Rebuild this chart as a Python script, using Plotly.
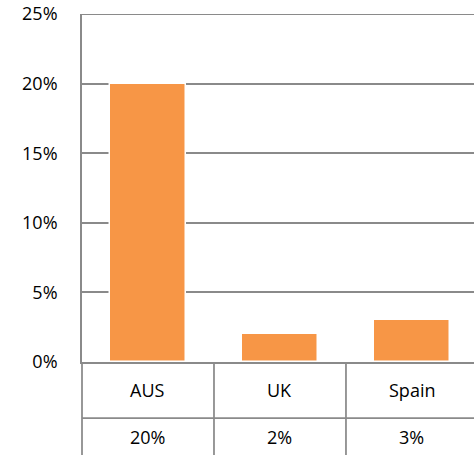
import plotly.graph_objects as go

# Share values by country
countries = ["AUS", "UK", "Spain"]
shares = [0.20, 0.02, 0.03]
y_ticks = [0, 0.05, 0.10, 0.15, 0.20, 0.25]

GRID = "#8a8a8a"
FONT = dict(family="Open Sans, Noto Sans, sans-serif", size=18, color="#000000")

fig = go.Figure()
fig.add_trace(go.Bar(
    x=list(range(len(countries))),
    y=shares,
    width=0.575,
    marker=dict(color="#F79646", line=dict(color="#ffffff", width=1.5)),
    hoverinfo="skip",
))

W, H = 474, 455
top, bottom, left = 14, 93, 82
plot_h = H - top - bottom

fig.update_layout(
    width=W, height=H,
    margin=dict(l=left, r=0, t=top, b=bottom),
    paper_bgcolor="white", plot_bgcolor="white",
    showlegend=False, font=FONT,
    bargap=0,
)
fig.update_xaxes(
    range=[-0.5, 2.47], showticklabels=False, showgrid=False,
    zeroline=False, showline=True, linecolor=GRID, linewidth=1.75,
    fixedrange=True,
)
fig.update_yaxes(
    range=[0, 0.25], tickvals=y_ticks, tickformat=".0%",
    showgrid=True, gridcolor=GRID, gridwidth=1.75,
    showline=True, linecolor=GRID, linewidth=1.75,
    zeroline=False, ticks="", ticklabelstandoff=19,
    tickfont=FONT, fixedrange=True,
)

line = dict(color=GRID, width=1.75)
# top gridline at the end of the value range
fig.add_shape(type="line", xref="paper", yref="y", x0=0, x1=1,
              y0=y_ticks[-1], y1=y_ticks[-1], line=line, layer="below")

# Data table under the plot: two rows (category, value)
row_h = 56 / plot_h          # category row height in paper units
y_row1 = 0
y_row2 = -row_h
y_end = -bottom / plot_h

# left border running through the table
fig.add_shape(type="line", xref="paper", yref="paper", x0=0, x1=0,
              y0=y_end, y1=0, line=line)
# separator between rows
fig.add_shape(type="line", xref="paper", yref="paper", x0=0, x1=1,
              y0=y_row2, y1=y_row2, line=line)
# column separators
for i in range(1, len(countries)):
    fig.add_shape(type="line", xref="x", yref="paper", x0=i - 0.5, x1=i - 0.5,
                  y0=y_end, y1=0, line=line)

for i, (c, v) in enumerate(zip(countries, shares)):
    fig.add_annotation(x=i, y=(y_row1 + y_row2) / 2, xref="x", yref="paper",
                       text=c, showarrow=False, font=FONT, yanchor="middle")
    fig.add_annotation(x=i, y=(y_row2 + y_end) / 2, xref="x", yref="paper",
                       text=f"{v:.0%}", showarrow=False, font=FONT, yanchor="middle")

fig.write_html("out.html", config={"displayModeBar": False})
